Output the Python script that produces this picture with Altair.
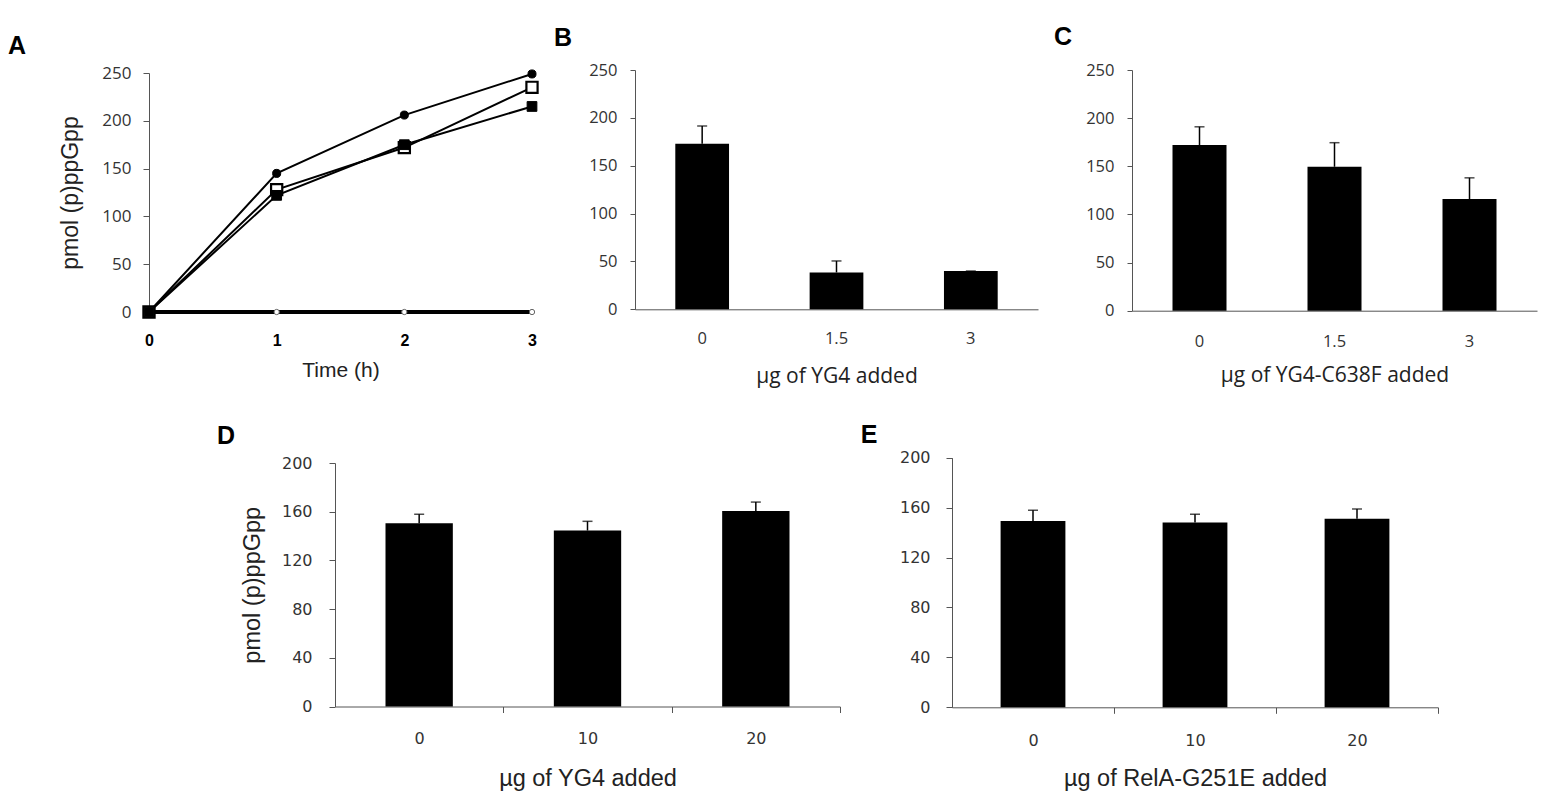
import altair as alt
import pandas as pd

# ---------------- data ----------------
# Panel A: time course (drawing order: open circle first, filled square last)
time_h = [0, 1, 2, 3]
series_names = ["open circle", "open square", "filled circle", "filled square"]
a_open_circle = [0, 0, 0, 0]
a_open_square = [0, 128, 172, 235]
a_filled_circle = [0, 145, 206, 249]
a_filled_square = [0, 122, 175, 215]

# Panel B
b_dose = ["0", "1.5", "3"]
b_mean = [173, 38.5, 40]
b_err = [18.5, 12, 0]

# Panel C
c_dose = ["0", "1.5", "3"]
c_mean = [172, 149.5, 116]
c_err = [19, 25, 22]

# Panel D
d_dose = ["0", "10", "20"]
d_mean = [150.5, 144.5, 160.5]
d_err = [7.4, 7.6, 7.4]

# Panel E
e_dose = ["0", "10", "20"]
e_mean = [149.3, 148, 151.1]
e_err = [8.6, 6.7, 7.8]

W, H = 1546, 796


def px(v):
    # page pixel -> chart pixel (page has 8px margin)
    return v - 8


AXIS_COL = "#555555"

# ---------------- panel A ----------------
a_values = a_open_circle + a_open_square + a_filled_circle + a_filled_square
a_series = [s for s in series_names for _ in time_h]
a_df = pd.DataFrame({"t": time_h * len(series_names), "v": a_values, "series": a_series})

xA = alt.X(
    "t:Q",
    scale=alt.Scale(domain=[0, 3], range=[px(149), px(532)], nice=False, zero=False),
    axis=alt.Axis(
        orient="bottom", offset=px(312) - H, values=[0, 1, 2, 3], format="d",
        grid=False, ticks=False, tickSize=0, domainColor=AXIS_COL,
        labelFont="Liberation Sans", labelFontWeight="bold", labelFontSize=16,
        labelColor="black", labelBaseline="middle", labelPadding=28, labelFlush=False,
        title="Time (h)", titleFont="Liberation Sans", titleFontSize=21,
        titleFontWeight="normal", titleColor="#222222", titleY=58, titleBaseline="middle",
    ),
)
yA = alt.Y(
    "v:Q",
    scale=alt.Scale(domain=[0, 250], range=[px(312), px(73)], nice=False, zero=True),
    axis=alt.Axis(
        orient="left", offset=-px(149), values=[0, 50, 100, 150, 200, 250],
        grid=False, domainColor=AXIS_COL, tickColor=AXIS_COL, tickSize=6,
        labelPadding=12, labelFont="Open Sans", labelFontSize=17, labelColor="#333333",
        title="pmol (p)ppGpp", titleFont="Liberation Sans", titleFontSize=23,
        titleFontWeight="normal", titleColor="#222222", titleX=70 - 149,
        titleBaseline="middle",
    ),
)

line_widths = {"open circle": 4, "open square": 2, "filled circle": 2, "filled square": 2}
marker_styles = {
    "open circle": dict(shape="circle", fill="white", stroke="#666666", strokeWidth=1, size=28),
    "open square": dict(shape="square", fill="white", stroke="black", strokeWidth=2.2, size=125),
    "filled circle": dict(shape="circle", fill="black", stroke="black", strokeWidth=1, size=65),
    "filled square": dict(shape="square", fill="black", stroke="black", strokeWidth=1, size=95),
}
a_line_layers = []
a_point_layers = []
for name in series_names:
    a_line_layers.append(
        alt.Chart(a_df).transform_filter(alt.datum.series == name).mark_line(
            color="black", strokeWidth=line_widths[name]
        ).encode(x=xA, y=yA)
    )
    a_point_layers.append(
        alt.Chart(a_df).transform_filter(alt.datum.series == name).mark_point(
            filled=True, opacity=1, fillOpacity=1, **marker_styles[name]
        ).encode(x=xA, y=yA)
    )
panel_a = alt.layer(*a_line_layers, *a_point_layers)


# ---------------- bar panels ----------------
def bar_panel(doses, means, errs, xr, y0, ytop, ymax, yvals, xtitle, style, opts):
    df = pd.DataFrame({"dose": doses, "mean": means, "top": [m + e for m, e in zip(means, errs)]})
    xscale = alt.Scale(type="band", domain=doses, range=xr, paddingInner=0.6, paddingOuter=0.3)
    yscale = alt.Scale(domain=[0, ymax], range=[px(y0), px(ytop)], nice=False, zero=True)
    if style == "calibri":
        xaxis = alt.Axis(
            orient="bottom", offset=px(y0) - H, grid=False, ticks=False, tickSize=0,
            domainColor=AXIS_COL, labelAngle=0, labelFont="Open Sans", labelFontSize=16.5,
            labelColor="#333333", labelBaseline="middle", labelPadding=opts["lp"],
            title=xtitle, titleFont="Open Sans", titleFontSize=21, titleFontWeight="normal",
            titleColor="#222222", titleY=opts["ty"], titleBaseline="middle",
        )
        yaxis = alt.Axis(
            orient="left", offset=-xr[0], values=yvals, grid=False,
            domainColor=AXIS_COL, tickColor=AXIS_COL, tickSize=5, labelPadding=13,
            labelFont="Open Sans", labelFontSize=16.5, labelColor="#333333", title="",
        )
    else:
        half_step = (xr[1] - xr[0]) / len(doses) / 2
        xaxis = alt.Axis(
            orient="bottom", offset=px(y0) - H, grid=False, tickSize=6,
            tickOffset=half_step, labelOffset=-half_step,
            tickColor=AXIS_COL, domainColor=AXIS_COL, labelAngle=0, labelFont="DejaVu Sans",
            labelFontSize=16, labelColor="#333333", labelBaseline="middle",
            labelPadding=opts["lp"], title=xtitle, titleFont="Liberation Sans",
            titleFontSize=23.5, titleFontWeight="normal", titleColor="#222222",
            titleY=opts["ty"], titleBaseline="middle",
        )
        yaxis = alt.Axis(
            orient="left", offset=-xr[0], values=yvals, grid=False,
            domainColor=AXIS_COL, tickColor=AXIS_COL, tickSize=6, labelPadding=opts["ylp"],
            labelFont="DejaVu Sans", labelFontSize=16, labelColor="#333333",
            title=opts["yt"], titleFont="Liberation Sans", titleFontSize=23.5,
            titleFontWeight="normal", titleColor="#222222", titleX=opts["tx"],
            titleBaseline="middle",
        )
    x = alt.X("dose:N", sort=doses, scale=xscale, axis=xaxis)
    y = alt.Y("mean:Q", scale=yscale, axis=yaxis)
    ytop_enc = alt.Y("top:Q", scale=yscale, axis=yaxis)
    bars = alt.Chart(df).mark_bar(color="black").encode(x=x, y=y)
    err = alt.Chart(df).mark_rule(color="black", strokeWidth=1.5).encode(x=x, y=y, y2="top:Q")
    cap = alt.Chart(df).mark_tick(color="black", size=10, thickness=1.5).encode(x=x, y=ytop_enc)
    return alt.layer(bars, err, cap)


panel_b = bar_panel(b_dose, b_mean, b_err, [px(635), px(1038)], 309.3, 70, 250,
                    [0, 50, 100, 150, 200, 250], "µg of YG4 added", "calibri",
                    {"lp": 29, "ty": 66.7})
panel_c = bar_panel(c_dose, c_mean, c_err, [px(1132), px(1537)], 310.7, 70, 250,
                    [0, 50, 100, 150, 200, 250], "µg of YG4-C638F added", "calibri",
                    {"lp": 31, "ty": 64.3})
panel_d = bar_panel(d_dose, d_mean, d_err, [px(335), px(840)], 706.5, 463, 200,
                    [0, 40, 80, 120, 160, 200], "µg of YG4 added", "verdana",
                    {"lp": 25.5, "ty": 71.5, "ylp": 17, "yt": "pmol (p)ppGpp", "tx": 252 - 335})
panel_e = bar_panel(e_dose, e_mean, e_err, [px(952), px(1438)], 707.3, 457.7, 200,
                    [0, 40, 80, 120, 160, 200], "µg of RelA-G251E added", "verdana",
                    {"lp": 26.7, "ty": 70.7, "ylp": 16, "yt": "", "tx": 0})

# ---------------- panel letters ----------------
letters = ["A", "B", "C", "D", "E"]
letter_pos = [(17, 46), (563, 38), (1063, 37), (226, 436), (869, 435)]
letter_layers = []
for lab, (lx, ly) in zip(letters, letter_pos):
    letter_layers.append(
        alt.Chart(pd.DataFrame({"label": [lab]})).mark_text(
            font="Liberation Sans", fontWeight="bold", fontSize=25, color="black",
            align="center", baseline="middle",
        ).encode(text="label:N", x=alt.value(px(lx)), y=alt.value(px(ly)))
    )

chart = (
    alt.layer(panel_a, panel_b, panel_c, panel_d, panel_e, *letter_layers)
    .resolve_scale(x="independent", y="independent")
    .resolve_axis(x="independent", y="independent")
    .properties(width=W, height=H, padding=0, autosize=alt.AutoSizeParams(type="none"),
                background="white")
    .configure_view(stroke="transparent")
)

chart.save("out.html", embed_options={"renderer": "svg", "actions": False})
